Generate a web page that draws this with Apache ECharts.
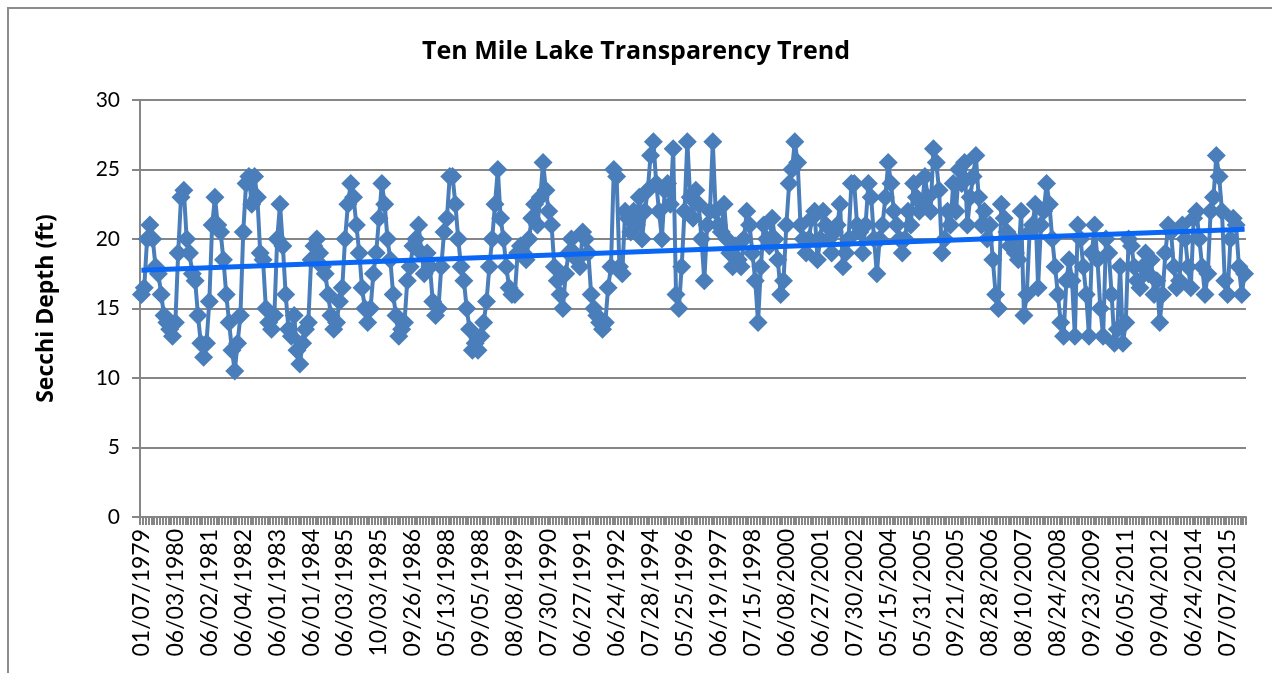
<!DOCTYPE html>
<html>
<head>
<meta charset="utf-8">
<script src="https://cdn.jsdelivr.net/npm/echarts@6/dist/echarts.min.js"></script>
<style>
  html, body { margin: 0; padding: 0; background: #fff; }
  #main { width: 1272px; height: 673px; }
</style>
</head>
<body>
<div id="main"></div>
<script>
// labelled sample dates (every 12th sample)
var tickLabels = [
  '01/07/1979', '06/03/1980', '06/02/1981', '06/04/1982', '06/01/1983', '06/01/1984',
  '06/03/1985', '10/03/1985', '09/26/1986', '05/13/1988', '09/05/1988', '08/08/1989',
  '07/30/1990', '06/27/1991', '06/24/1992', '07/28/1994', '05/25/1996', '06/19/1997',
  '07/15/1998', '06/08/2000', '06/27/2001', '07/30/2002', '05/15/2004', '05/31/2005',
  '09/21/2005', '08/28/2006', '08/10/2007', '08/24/2008', '09/23/2009', '06/05/2011',
  '09/04/2012', '06/24/2014', '07/07/2015'
];

// secchi depth (ft)
var depth1979to1988 = [
  16, 16.5, 20, 21, 20, 18, 17.5, 16, 14.5, 14, 13.5, 13,
  14, 19, 23, 23.5, 20, 19, 17.5, 17, 14.5, 12.5, 11.5, 12.5,
  15.5, 21, 23, 21, 20.5, 18.5, 16, 14, 12, 10.5, 12.5, 14.5,
  20.5, 24, 24.5, 22.5, 24.5, 23, 19, 18.5, 15, 14, 13.5, 14.5,
  20, 22.5, 19.5, 16, 13.5, 13, 14.5, 12, 11, 12.5, 13.5, 14,
  18.5, 19.5, 20, 19, 18, 17.5, 16, 14.5, 13.5, 14, 15.5, 16.5,
  20, 22.5, 24, 23, 21, 19, 16.5, 15, 14, 15, 17.5, 19,
  21.5, 24, 22.5, 20, 18.5, 16, 14.5, 13, 13.5, 14, 17, 18,
  19.5, 20, 21, 19, 17.5, 19, 18, 15.5, 14.5, 15, 18, 20.5,
  21.5, 24.5, 24.5, 22.5, 20, 18, 17, 15, 13.5, 12, 12.5, 12
];
var depth1988to1998 = [
  13, 14, 15.5, 18, 20, 22.5, 25, 21.5, 20, 18, 16.5, 16,
  16, 19, 19.5, 19, 18.5, 20, 21.5, 22.5, 21, 23, 25.5, 23.5,
  22, 21, 18, 17, 16, 15, 17.5, 19, 20, 19, 18.5, 18,
  20.5, 20, 19, 16, 15, 14.5, 14, 13.5, 14, 16.5, 18, 25,
  24.5, 18, 17.5, 22, 21.5, 20.5, 22, 21, 23, 20, 22, 23.5,
  26, 27, 24, 22, 20, 23.5, 24, 22.5, 26.5, 16, 15, 18,
  22, 27, 23, 21.5, 23.5, 22.5, 20, 17, 21, 22, 27, 22,
  21, 20.5, 22.5, 20, 19, 18, 19.5, 18.5, 18, 20, 22, 21
];
var depth1998to2006 = [
  19, 17, 14, 18, 21, 20, 19.5, 21.5, 20, 18.5, 16, 17,
  21, 24, 25, 27, 25.5, 21, 20, 19, 20, 21.5, 22, 18.5,
  20, 22, 21, 20, 19, 20.5, 21, 22.5, 18, 19, 20, 24,
  24, 21, 20.5, 19, 21, 24, 23, 20, 17.5, 20, 21, 23,
  25.5, 24, 22, 21, 20, 19, 20, 22, 21, 24, 23, 22,
  22.5, 24.5, 23, 22, 26.5, 25.5, 23.5, 19, 20, 22, 21, 24,
  22, 25, 24, 25.5, 21, 23, 24.5, 26, 23, 21, 22, 20
];
var depth2006to2015 = [
  21, 18.5, 16, 15, 22.5, 21.5, 20.5, 19.5, 20, 19, 18.5, 22,
  14.5, 16, 20.5, 21, 22.5, 16.5, 21, 22, 24, 22.5, 20, 18,
  16, 14, 13, 17, 18.5, 17, 13, 21, 20, 18, 16, 13,
  19, 21, 18.5, 15, 13, 20, 19, 16, 12.5, 13.5, 18, 12.5,
  14, 20, 19.5, 18, 17, 16.5, 18, 19, 17.5, 18.5, 16, 17,
  14, 16, 19, 21, 20.5, 18, 16.5, 17, 21, 20, 18, 16.5,
  21.5, 22, 20, 18, 16, 17.5, 22, 23, 26, 24.5, 22, 17,
  16, 20, 21.5, 21, 18, 16, 17.5
];

// linear trend end points
var trendStart = 17.75;
var trendEnd = 20.7;

var depth = depth1979to1988.concat(depth1988to1998, depth1998to2006, depth2006to2015);
var categories = depth.map(function (v, i) {
  return i % 12 === 0 ? tickLabels[i / 12] : '';
});
var trend = depth.map(function (v, i) {
  if (i === 0) return trendStart;
  if (i === depth.length - 1) return trendEnd;
  return null;
});

var font = 'Lato, "Open Sans", sans-serif';
var chart = echarts.init(document.getElementById('main'));
chart.setOption({
  backgroundColor: '#fff',
  animation: false,
  title: {
    text: 'Ten Mile Lake Transparency Trend',
    left: 'center',
    top: 34,
    textStyle: { fontFamily: '"Open Sans", sans-serif', fontSize: 25, fontWeight: 'bold', color: '#000' }
  },
  graphic: [{
    type: 'rect',
    shape: { x: 8, y: 8, width: 1300, height: 700 },
    style: { fill: 'none', stroke: '#8c8c8c', lineWidth: 2 },
    silent: true
  }],
  grid: { left: 140, right: 26, top: 100, bottom: 156 },
  xAxis: {
    type: 'category',
    data: categories,
    axisLine: { lineStyle: { color: '#868686', width: 2 } },
    axisTick: { show: true, interval: 0, length: 8, lineStyle: { color: '#868686', width: 2 } },
    axisLabel: {
      interval: 11,
      rotate: 90,
      margin: 12,
      fontFamily: font,
      fontSize: 23,
      color: '#000'
    },
    splitLine: { show: false }
  },
  yAxis: {
    type: 'value',
    min: 0,
    max: 30,
    interval: 5,
    name: 'Secchi Depth (ft)',
    nameLocation: 'middle',
    nameGap: 82,
    nameTextStyle: { fontFamily: '"Open Sans", sans-serif', fontSize: 23, fontWeight: 'bold', color: '#000' },
    axisLine: { show: true, lineStyle: { color: '#868686', width: 2 } },
    axisTick: { show: true, length: 8, lineStyle: { color: '#868686', width: 2 } },
    axisLabel: { fontFamily: font, fontSize: 21, color: '#000', margin: 20 },
    splitLine: { lineStyle: { color: '#868686', width: 2 } }
  },
  series: [{
    type: 'line',
    data: depth,
    symbol: 'diamond',
    symbolSize: 19,
    showAllSymbol: true,
    lineStyle: { color: '#4a7ebb', width: 4 },
    itemStyle: { color: '#4a7ebb' }
  }, {
    type: 'line',
    data: trend,
    connectNulls: true,
    showSymbol: false,
    symbol: 'none',
    lineStyle: { color: '#0a66f5', width: 5 },
    z: 5
  }]
});
</script>
</body>
</html>
